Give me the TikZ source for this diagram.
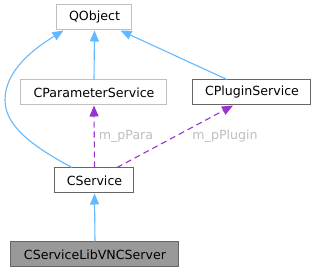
\documentclass[tikz,border=0pt]{standalone}
\usepackage{fontspec}
\setmainfont{DejaVu Sans}
\usetikzlibrary{arrows.meta}
\definecolor{edgeblue}{HTML}{63B8FF}
\definecolor{edgepurple}{HTML}{9A32CD}
\definecolor{lightborder}{HTML}{BFBFBF}
\definecolor{darkborder}{HTML}{666666}
\definecolor{curfill}{HTML}{999999}
\definecolor{labelgrey}{HTML}{BEBEBE}
\begin{document}
\begin{tikzpicture}[x=1pt,y=-1pt,
  every node/.style={font=\fontsize{12.6}{15}\selectfont},
  cls/.style={draw, line width=1pt, minimum height=25pt, inner sep=0pt, text=black},
  extcls/.style={cls, draw=lightborder},
  doccls/.style={cls, draw=darkborder},
  curcls/.style={cls, draw=darkborder, fill=curfill},
  inherit/.style={draw=edgeblue, line width=1.1pt, -{Triangle[length=11pt,width=9pt]}},
  usage/.style={draw=edgepurple, line width=1.1pt, dash pattern=on 6pt off 4pt, -{Triangle[length=11pt,width=9pt]}},
  lbl/.style={text=labelgrey, inner sep=0pt}
]
\useasboundingbox (0,0) rectangle (317,273);
\node[extcls, minimum width=75pt] (qo) at (94.5,17.5) {QObject};
\node[extcls, minimum width=146pt] (cps) at (94,92.5) {CParameterService};
\node[doccls, minimum width=118pt] (plg) at (252,92.5) {CPluginService};
\node[doccls, minimum width=79pt] (cs) at (94.5,180.5) {CService};
\node[curcls, minimum width=168pt] (vnc) at (95,254.5) {CServiceLibVNCServer};

\draw[inherit] (cps.north) -- (qo.south);
\draw[inherit] ([xshift=-25pt]plg.north) -- ([xshift=26pt]qo.south);
\draw[inherit] ([xshift=-22.5pt]cs.north) .. controls (30,145) and (5,125) .. (5,100) .. controls (5,70) and (35,48) .. ([xshift=-31pt]qo.south);
\draw[usage] (cs.north) -- (cps.south);
\draw[usage] ([xshift=22.5pt]cs.north) -- ([xshift=-19pt]plg.south);
\draw[inherit] (vnc.north) -- (cs.south);

\node[lbl] (lpara) at (126,136) {m\_pPara};
\node[lbl] (lplug) at (225,136) {m\_pPlugin};
\end{tikzpicture}
\end{document}
